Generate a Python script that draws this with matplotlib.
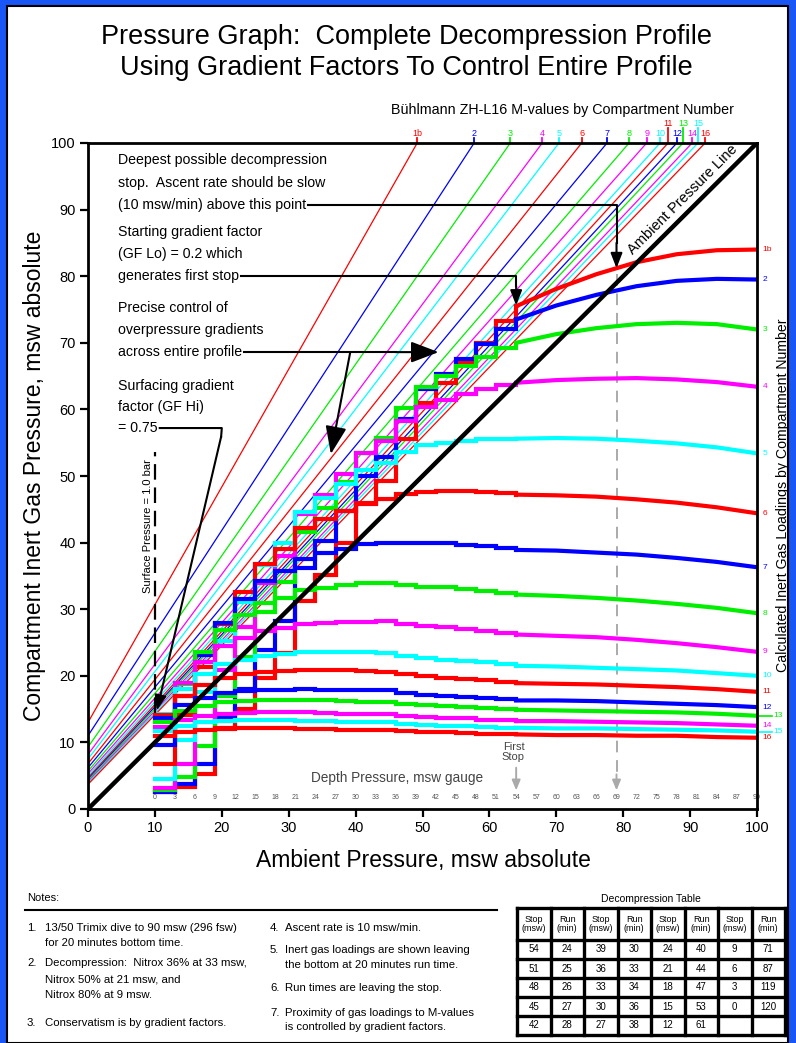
import matplotlib
matplotlib.use("Agg")
import matplotlib.pyplot as plt
from matplotlib.patches import Rectangle
from matplotlib.lines import Line2D

plt.rcParams['font.family'] = ['Liberation Sans', 'DejaVu Sans']

# ------------------------------------------------------------------ data
compartments = ['1b', '2', '3', '4', '5', '6', '7', '8',
                '9', '10', '11', '12', '13', '14', '15', '16']
palette = ['#ff0000', '#0000ff', '#00ee00', '#ff00ff', '#00ffff']
raised_labels = ['11', '13', '15']

# Buhlmann ZH-L16 M-value lines (msw absolute): value at zero ambient and slope
m_value_at_zero = [13.0, 11.0, 9.3, 8.2, 7.5, 6.8, 6.2, 5.7,
                   5.3, 5.0, 4.7, 4.5, 4.3, 4.1, 3.9, 3.7]
m_value_slope = [1.768, 1.542, 1.437, 1.352, 1.314, 1.263, 1.209, 1.166,
                 1.134, 1.111, 1.099, 1.085, 1.076, 1.062, 1.054, 1.044]

surface_pressure = 10  # msw absolute

# inert gas loadings during the ascent from the bottom to the first stop
ascent_ambient = [100, 94, 88, 82, 76, 70, 64]
asc_1b = [84.0, 83.9, 83.3, 82.1, 80.3, 78.1, 75.5]
asc_2 = [79.5, 79.6, 79.3, 78.5, 77.2, 75.6, 73.5]
asc_3 = [72.0, 72.8, 73.0, 72.8, 72.2, 71.3, 70.0]
asc_4 = [63.4, 64.1, 64.5, 64.7, 64.6, 64.4, 64.0]
asc_5 = [53.4, 54.3, 54.9, 55.3, 55.6, 55.7, 55.6]
asc_6 = [44.4, 45.3, 46.0, 46.5, 46.9, 47.1, 47.2]
asc_7 = [36.3, 37.1, 37.7, 38.2, 38.5, 38.8, 38.9]
asc_8 = [29.4, 30.2, 30.8, 31.3, 31.7, 32.0, 32.2]
asc_9 = [23.6, 24.3, 24.9, 25.4, 25.8, 26.0, 26.2]
asc_10 = [20.0, 20.4, 20.8, 21.0, 21.2, 21.4, 21.5]
asc_11 = [17.6, 18.0, 18.3, 18.5, 18.7, 18.8, 18.9]
asc_12 = [15.3, 15.6, 15.8, 16.0, 16.2, 16.3, 16.3]
asc_13 = [14.0, 14.3, 14.5, 14.6, 14.7, 14.8, 14.9]
asc_14 = [12.5, 12.7, 12.9, 13.0, 13.1, 13.2, 13.2]
asc_15 = [11.6, 11.8, 11.9, 12.0, 12.1, 12.1, 12.2]
asc_16 = [10.7, 10.8, 11.0, 11.0, 11.1, 11.1, 11.2]

# inert gas loadings leaving each stop (54 msw ... 3 msw)
stops_1b = [73.2, 70.0, 66.9, 63.9, 60.9, 55.5, 49.2, 45.8, 39.9, 35.2, 31.3, 23.4, 19.6, 15.0, 12.0, 5.3, 3.3, 2.6]
stops_2 = [72.0, 69.8, 67.6, 65.3, 63.0, 58.6, 52.9, 50.0, 44.7, 40.2, 36.2, 28.2, 23.9, 18.0, 13.6, 6.7, 3.7, 2.6]
stops_3 = [69.2, 67.9, 66.5, 65.0, 63.4, 60.2, 55.7, 53.4, 49.1, 45.2, 41.6, 34.1, 29.6, 22.8, 17.0, 9.5, 4.8, 2.8]
stops_4 = [63.7, 63.0, 62.3, 61.4, 60.4, 58.3, 55.2, 53.5, 50.3, 47.2, 44.3, 38.0, 33.9, 27.3, 20.9, 13.0, 6.8, 3.2]
stops_5 = [55.6, 55.5, 55.3, 55.0, 54.6, 53.6, 51.9, 50.9, 48.8, 46.7, 44.6, 39.9, 36.7, 31.1, 25.2, 17.6, 10.4, 4.5]
stops_6 = [47.4, 47.6, 47.7, 47.7, 47.6, 47.3, 46.6, 46.0, 44.8, 43.5, 42.2, 39.0, 36.8, 32.6, 27.8, 21.3, 14.1, 6.8]
stops_7 = [39.2, 39.5, 39.7, 39.9, 40.0, 40.0, 40.0, 39.8, 39.1, 38.4, 37.6, 35.7, 34.2, 31.5, 28.0, 23.1, 17.0, 9.6]
stops_8 = [32.5, 32.8, 33.0, 33.3, 33.4, 33.7, 34.0, 33.9, 33.6, 33.2, 32.9, 31.7, 30.9, 29.2, 26.9, 23.5, 18.8, 12.2]
stops_9 = [26.5, 26.8, 27.0, 27.3, 27.5, 27.8, 28.2, 28.1, 28.1, 28.0, 27.8, 27.2, 26.8, 25.7, 24.4, 22.1, 18.9, 13.9]
stops_10 = [21.7, 22.0, 22.2, 22.4, 22.6, 23.0, 23.4, 23.5, 23.5, 23.5, 23.5, 23.2, 23.0, 22.4, 21.7, 20.2, 18.0, 14.3]
stops_11 = [19.1, 19.3, 19.5, 19.7, 19.9, 20.2, 20.6, 20.7, 20.8, 20.8, 20.8, 20.7, 20.5, 20.2, 19.7, 18.6, 17.0, 14.1]
stops_12 = [16.5, 16.6, 16.8, 17.0, 17.1, 17.4, 17.8, 17.8, 17.9, 17.9, 18.0, 17.9, 17.9, 17.7, 17.4, 16.7, 15.6, 13.6]
stops_13 = [15.0, 15.1, 15.3, 15.4, 15.6, 15.8, 16.1, 16.1, 16.2, 16.3, 16.3, 16.3, 16.3, 16.2, 16.0, 15.5, 14.7, 13.1]
stops_14 = [13.3, 13.4, 13.6, 13.7, 13.8, 14.0, 14.2, 14.3, 14.3, 14.4, 14.5, 14.5, 14.5, 14.4, 14.3, 14.0, 13.4, 12.3]
stops_15 = [12.2, 12.3, 12.4, 12.5, 12.6, 12.8, 13.0, 13.1, 13.1, 13.2, 13.2, 13.3, 13.3, 13.3, 13.2, 13.0, 12.5, 11.7]
stops_16 = [11.2, 11.3, 11.4, 11.5, 11.5, 11.7, 11.9, 11.9, 11.9, 12.0, 12.0, 12.1, 12.1, 12.1, 12.1, 11.9, 11.6, 11.0]

ascent_loads = [asc_1b, asc_2, asc_3, asc_4, asc_5, asc_6, asc_7, asc_8,
                asc_9, asc_10, asc_11, asc_12, asc_13, asc_14, asc_15, asc_16]
stop_loads = [stops_1b, stops_2, stops_3, stops_4, stops_5, stops_6, stops_7, stops_8,
              stops_9, stops_10, stops_11, stops_12, stops_13, stops_14, stops_15, stops_16]

# decompression schedule (stop depth msw, run time leaving the stop)
table_stops = [54, 51, 48, 45, 42, 39, 36, 33, 30, 27, 24, 21, 18, 15, 12, 9, 6, 3, 0]
table_runs = [24, 25, 26, 27, 28, 30, 33, 34, 36, 38, 40, 44, 47, 53, 61, 71, 87, 119, 120]

depth_ticks = [0, 3, 6, 9, 12, 15, 18, 21, 24, 27, 30, 33, 36, 39, 42, 45,
               48, 51, 54, 57, 60, 63, 66, 69, 72, 75, 78, 81, 84, 87, 90]

first_stop_ambient = table_stops[0] + surface_pressure
deepest_stop_ambient = 79

notes_left = [
    ("1.", ["13/50 Trimix dive to 90 msw (296 fsw)", "for 20 minutes bottom time."], [928, 943]),
    ("2.", ["Decompression:  Nitrox 36% at 33 msw,", "Nitrox 50% at 21 msw, and", "Nitrox 80% at 9 msw."], [963, 979, 995]),
    ("3.", ["Conservatism is by gradient factors."], [1023]),
]
notes_right = [
    ("4.", ["Ascent rate is 10 msw/min."], [928]),
    ("5.", ["Inert gas loadings are shown leaving", "the bottom at 20 minutes run time."], [950, 965]),
    ("6.", ["Run times are leaving the stop."], [988]),
    ("7.", ["Proximity of gas loadings to M-values", "is controlled by gradient factors."], [1013, 1027]),
]

# ------------------------------------------------------------------ figure
W, H = 796, 1043
fig = plt.figure(figsize=(W / 100, H / 100), dpi=100)
fig.patch.set_facecolor('#1a56f5')
fig.patches.append(Rectangle((7 / W, 0), (788 - 7) / W, (H - 6) / H,
                             transform=fig.transFigure, facecolor='white',
                             edgecolor='black', lw=1.5, zorder=-10))


def fx(px):
    return px / W


def fy(py):
    return 1 - py / H


ax = fig.add_axes([fx(88), fy(809), (757 - 88) / W, (809 - 143) / H])
ax.set_zorder(1)
ax.set_xlim(0, 100)
ax.set_ylim(0, 100)
ax.set_xticks(range(0, 101, 10))
ax.set_yticks(range(0, 101, 10))
ax.tick_params(direction='out', length=6, width=1.6, labelsize=10.5, pad=3)
for s in ax.spines.values():
    s.set_linewidth(2.0)
    s.set_zorder(7)


def col(i):
    return palette[i % len(palette)]


# M-value lines with labels along the top edge
for i, name in enumerate(compartments):
    ax.axline((0, m_value_at_zero[i]), slope=m_value_slope[i], color=col(i), lw=0.9, zorder=2)
    xtop = (100 - m_value_at_zero[i]) / m_value_slope[i]
    top = 102.3 if name in raised_labels else 100.8
    ax.plot([xtop, xtop], [100, top], color=col(i), lw=1.3, clip_on=False, zorder=2)
    ax.text(xtop, top, name, color=col(i), fontsize=6.5, ha='center', va='bottom', clip_on=False)

ax.text(70.9, 104.9, 'Bühlmann ZH-L16 M-values by Compartment Number',
        fontsize=10.3, ha='center', va='center', clip_on=False)

# compartment loadings: ascent curve then stop-by-stop staircase
stop_ambient = [d + surface_pressure for d in table_stops]
for i, name in enumerate(compartments):
    ax.plot(ascent_ambient, ascent_loads[i], color=col(i), lw=3.0, zorder=3,
            solid_joinstyle='miter')
    ax.plot(stop_ambient, [ascent_loads[i][-1]] + stop_loads[i], color=col(i), lw=3.0,
            drawstyle='steps-pre', zorder=3, solid_joinstyle='miter')
    end_y = ascent_loads[i][0]
    if name in ('13', '15'):
        # staggered labels where the end values crowd together
        ax.plot([100, 102.2], [end_y, end_y], color=col(i), lw=1.2, clip_on=False, zorder=3)
        ax.text(102.4, end_y, name, color=col(i), fontsize=6,
                ha='left', va='center', clip_on=False)
    else:
        ax.text(100.8, end_y, name, color=col(i), fontsize=6,
                ha='left', va='center', clip_on=False)

# ambient pressure line
ax.axline((0, 0), slope=1, color='black', lw=3.2, zorder=4)
ax.text(89.6, 90.7, 'Ambient Pressure Line', rotation=45, rotation_mode='anchor',
        ha='center', va='bottom', fontsize=10.5, zorder=5)

# surface pressure marker
ax.plot([surface_pressure, surface_pressure], [14.4, 53.6], color='black', lw=1.6,
        dashes=(7, 3.5), zorder=5)
ax.text(surface_pressure - 1.0, 42.5, 'Surface Pressure = 1.0 bar', rotation=90,
        fontsize=8, ha='center', va='center', zorder=5)

# depth scale along the bottom
for d in depth_ticks:
    ax.text(d + surface_pressure, 1.8, str(d), fontsize=5, color='#555555',
            ha='center', va='center')
ax.text(46.2, 4.6, 'Depth Pressure, msw gauge', fontsize=9.8, color='#444444',
        ha='center', va='center')
ax.text(first_stop_ambient - 0.4, 8.6, 'First\nStop', fontsize=8, color='#444444',
        ha='center', va='center', linespacing=1.0)
gray_arrow = dict(arrowstyle='-|>,head_length=0.6,head_width=0.25', color='#aaaaaa',
                  lw=1.4, shrinkA=0, shrinkB=0)
ax.annotate('', xy=(first_stop_ambient, 2.8), xytext=(first_stop_ambient, 6.2),
            arrowprops=gray_arrow)
ax.plot([deepest_stop_ambient, deepest_stop_ambient], [80.4, 5.0], color='#aaaaaa',
        lw=1.4, dashes=(6, 4), zorder=2.5)
ax.annotate('', xy=(deepest_stop_ambient, 2.8), xytext=(deepest_stop_ambient, 5.2),
            arrowprops=gray_arrow)

# explanatory callouts
blocks = [
    (["Deepest possible decompression", "stop.  Ascent rate should be slow",
      "(10 msw/min) above this point"], [97.4, 94.0, 90.7]),
    (["Starting gradient factor", "(GF Lo) = 0.2 which", "generates first stop"],
     [86.6, 83.3, 80.0]),
    (["Precise control of", "overpressure gradients", "across entire profile"],
     [75.2, 71.9, 68.6]),
    (["Surfacing gradient", "factor (GF Hi)", "= 0.75"], [63.5, 60.4, 57.2]),
]
last_lines = []
for lines, ys in blocks:
    for line, y in zip(lines, ys):
        t = ax.text(4.5, y, line, fontsize=10.2, ha='left', va='center', zorder=6)
    last_lines.append((t, ys[-1]))

fig.canvas.draw()
renderer = fig.canvas.get_renderer()


def text_end(t):
    bb = t.get_window_extent(renderer)
    return ax.transData.inverted().transform((bb.x1, bb.y0))[0] + 0.3


small_head = dict(arrowstyle='-|>,head_length=0.9,head_width=0.35', color='black',
                  lw=1.5, shrinkA=0, shrinkB=0)
big_head = dict(arrowstyle='-|>,head_length=1.7,head_width=0.65', color='black',
                lw=1.5, shrinkA=0, shrinkB=0)

t, y = last_lines[0]
ax.plot([text_end(t), deepest_stop_ambient, deepest_stop_ambient], [y, y, 85.0],
        color='black', lw=1.5, zorder=6)
ax.annotate('', xy=(deepest_stop_ambient, 81.2), xytext=(deepest_stop_ambient, 85.0),
            arrowprops=small_head, zorder=6)

t, y = last_lines[1]
ax.plot([text_end(t), first_stop_ambient, first_stop_ambient], [y, y, 78.5],
        color='black', lw=1.5, zorder=6)
ax.annotate('', xy=(first_stop_ambient, 75.6), xytext=(first_stop_ambient, 78.5),
            arrowprops=small_head, zorder=6)

t, y = last_lines[2]
ax.plot([text_end(t), 46.0], [y, y], color='black', lw=1.5, zorder=6)
ax.annotate('', xy=(52.4, y), xytext=(46.0, y), arrowprops=big_head, zorder=6)
ax.annotate('', xy=(36.3, 53.3), xytext=(39.2, y), arrowprops=big_head, zorder=6)

t, y = last_lines[3]
ax.plot([text_end(t), 20.0, 19.9], [y, y, 55.9], color='black', lw=1.5, zorder=6)
ax.annotate('', xy=(10.3, 14.8), xytext=(19.9, 55.9), arrowprops=small_head, zorder=6)

# titles and axis labels
fig.text(fx(406), fy(37), 'Pressure Graph:  Complete Decompression Profile',
         fontsize=19.5, ha='center', va='center')
fig.text(fx(406), fy(68), 'Using Gradient Factors To Control Entire Profile',
         fontsize=19.5, ha='center', va='center')
fig.text(fx(423), fy(860), 'Ambient Pressure, msw absolute', fontsize=16.5,
         ha='center', va='center')
fig.text(fx(35), fy(476), 'Compartment Inert Gas Pressure, msw absolute', fontsize=16.5,
         rotation=90, ha='center', va='center')
fig.text(fx(783), fy(495), 'Calculated Inert Gas Loadings by Compartment Number',
         fontsize=10.2, rotation=90, ha='center', va='center')

# notes
fig.text(fx(27), fy(898), 'Notes:', fontsize=8, ha='left', va='center')
fig.add_artist(Line2D([fx(25), fx(497)], [fy(910), fy(910)], color='black', lw=1.5))
for entries, xnum, xtxt in ((notes_left, 27, 45), (notes_right, 270, 285)):
    for num, lines, ys in entries:
        fig.text(fx(xnum), fy(ys[0]), num, fontsize=8.2, ha='left', va='center')
        for line, y in zip(lines, ys):
            fig.text(fx(xtxt), fy(y), line, fontsize=8.2, ha='left', va='center')

# decompression table
fig.text(fx(651), fy(899), 'Decompression Table', fontsize=7.5, ha='center', va='center')
tx0, tx1 = 517, 785
row_edges = [908, 940, 959, 978, 997, 1016, 1035]
ncols = 8
cw = (tx1 - tx0) / ncols
for k in range(ncols + 1):
    xx = tx0 + k * cw
    fig.add_artist(Line2D([fx(xx), fx(xx)], [fy(row_edges[0]), fy(row_edges[-1])],
                          color='black', lw=2.4))
for ry in row_edges:
    fig.add_artist(Line2D([fx(tx0), fx(tx1)], [fy(ry), fy(ry)], color='black', lw=2.4))
for k in range(ncols):
    head = 'Stop\n(msw)' if k % 2 == 0 else 'Run\n(min)'
    fig.text(fx(tx0 + (k + 0.5) * cw), fy((row_edges[0] + row_edges[1]) / 2), head,
             fontsize=6.5, ha='center', va='center', linespacing=1.1)
for idx, (stp, run) in enumerate(zip(table_stops, table_runs)):
    pair, row = divmod(idx, 5)
    yc = fy((row_edges[row + 1] + row_edges[row + 2]) / 2)
    fig.text(fx(tx0 + (2 * pair + 0.5) * cw), yc, str(stp), fontsize=7,
             ha='center', va='center')
    fig.text(fx(tx0 + (2 * pair + 1.5) * cw), yc, str(run), fontsize=7,
             ha='center', va='center')

fig.savefig('out.png', dpi=100, facecolor=fig.get_facecolor())
